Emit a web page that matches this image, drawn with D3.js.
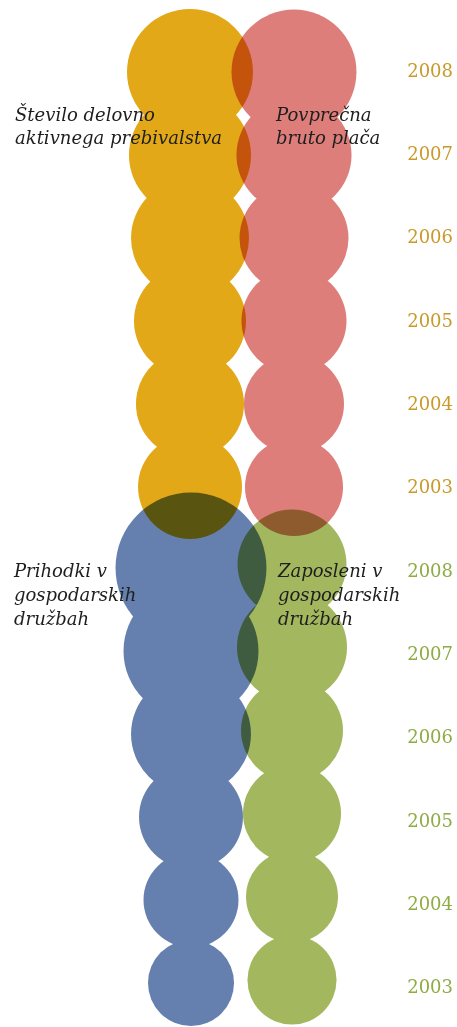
<!DOCTYPE html>
<html>
<head>
<meta charset="utf-8">
<script src="https://cdn.jsdelivr.net/npm/d3@7"></script>
<style>
  body { margin: 0; background: #fff; }
  svg { display: block; }
  .label { font-family: "DejaVu Serif", serif; font-style: italic; font-size: 18px; fill: #1e1e1e; }
  .year { font-family: "DejaVu Serif", serif; font-size: 18px; }
</style>
</head>
<body>
<div id="chart"></div>
<script>
const years = ["2008", "2007", "2006", "2005", "2004", "2003"];

// circle sizes, index where 100 = largest possible circle
const activePopulation = [82.9, 80.3, 77.6, 73.7, 71.1, 68.4];
const grossWage = [82.2, 75.7, 71.7, 69.1, 65.8, 64.5];
const companyRevenue = [99.3, 88.8, 78.9, 68.4, 62.5, 56.6];
const companyEmployees = [71.7, 72.4, 67.1, 64.5, 60.5, 58.6];

const labelActive = ["Število delovno", "aktivnega prebivalstva"];
const labelWage = ["Povprečna", "bruto plača"];
const labelRevenue = ["Prihodki v", "gospodarskih", "družbah"];
const labelEmployees = ["Zaposleni v", "gospodarskih", "družbah"];

const width = 457;
const height = 1027;

const svg = d3
  .select("#chart")
  .append("svg")
  .attr("width", width)
  .attr("height", height);

const r = d3.scaleLinear().domain([0, 100]).range([0, 76]);

// one row scale per panel
const yTop = d3.scalePoint().domain(years).range([72, 487]);
const yBottom = d3.scalePoint().domain(years).range([568, 983]);
const yBottomGreen = d3.scalePoint().domain(years).range([564, 980]);
const yearTop = d3.scalePoint().domain(years).range([77, 493]);
const yearBottom = d3.scalePoint().domain(years).range([577, 993]);

const series = [
  { values: activePopulation, cx: 190, y: yTop, color: "#e2a818" },
  { values: grossWage, cx: 294, y: yTop, color: "#de7e7b" },
  { values: companyRevenue, cx: 191, y: yBottom, color: "#6580ae" },
  { values: companyEmployees, cx: 292, y: yBottomGreen, color: "#a2b75e" },
];

const plot = svg.append("g").style("isolation", "isolate");

series.forEach((s) => {
  // each column is its own layer so only different columns darken each other
  plot
    .append("g")
    .style("mix-blend-mode", "multiply")
    .selectAll("circle")
    .data(s.values)
    .join("circle")
    .attr("cx", s.cx)
    .attr("cy", (d, i) => s.y(years[i]))
    .attr("r", (d) => r(d))
    .attr("fill", s.color);
});

function multiline(lines, x, y0, lineHeight) {
  svg
    .append("text")
    .attr("class", "label")
    .selectAll("tspan")
    .data(lines)
    .join("tspan")
    .attr("x", x)
    .attr("y", (d, i) => y0 + i * lineHeight)
    .text((d) => d);
}

multiline(labelActive, 15, 121, 23);
multiline(labelWage, 276, 121, 23);
multiline(labelRevenue, 14, 577, 24);
multiline(labelEmployees, 278, 577, 24);

svg
  .append("g")
  .selectAll("text")
  .data(years)
  .join("text")
  .attr("class", "year")
  .attr("x", 453)
  .attr("y", (d) => yearTop(d))
  .attr("text-anchor", "end")
  .attr("fill", "#c99a2a")
  .text((d) => d);

svg
  .append("g")
  .selectAll("text")
  .data(years)
  .join("text")
  .attr("class", "year")
  .attr("x", 453)
  .attr("y", (d) => yearBottom(d))
  .attr("text-anchor", "end")
  .attr("fill", "#8fab45")
  .text((d) => d);
</script>
</body>
</html>
